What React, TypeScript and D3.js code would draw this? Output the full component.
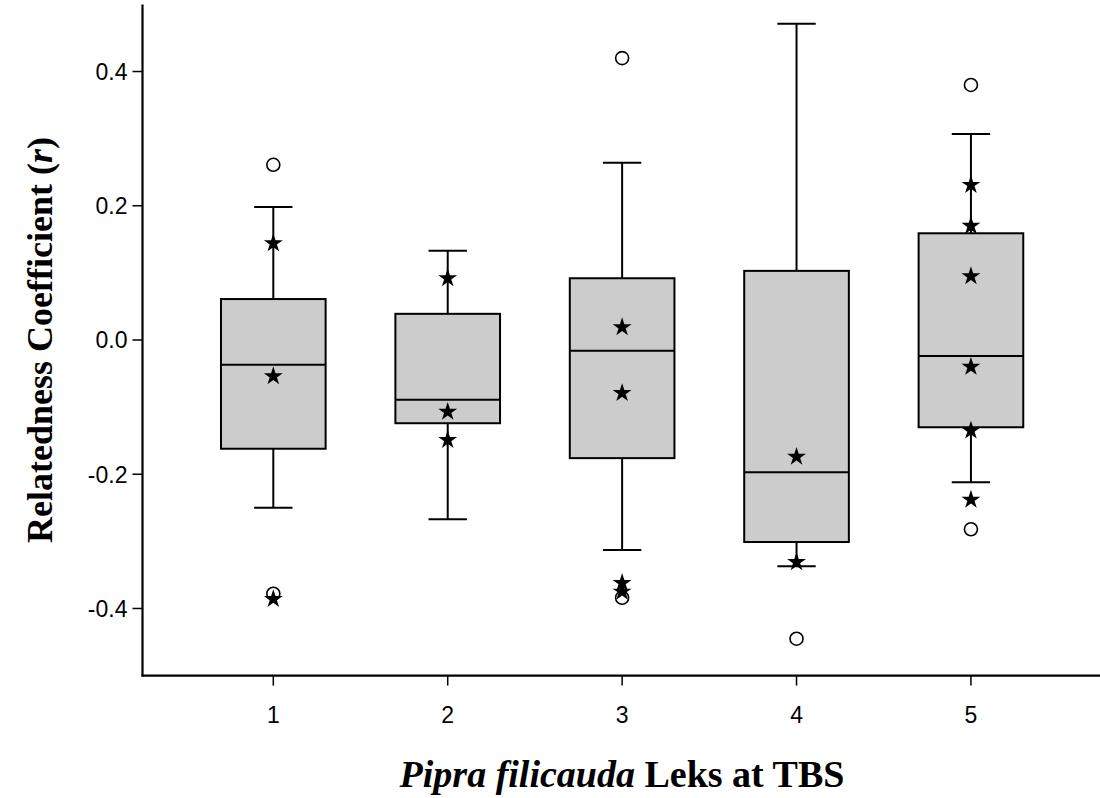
import React from "react";
import * as d3 from "d3";

const categories = [1, 2, 3, 4, 5];
const whiskerLow = [-0.25, -0.267, -0.313, -0.337, -0.212];
const q1 = [-0.162, -0.124, -0.176, -0.301, -0.13];
const median = [-0.037, -0.089, -0.016, -0.197, -0.024];
const q3 = [0.061, 0.039, 0.092, 0.103, 0.159];
const whiskerHigh = [0.198, 0.133, 0.264, 0.471, 0.307];
const outliers = [[0.261, -0.378], [], [0.42, -0.384], [-0.445], [0.38, -0.282]];
const stars = [
  [0.144, -0.054, -0.386],
  [0.092, -0.107, -0.149],
  [0.019, -0.079, -0.362, -0.375],
  [-0.174, -0.331],
  [0.231, 0.17, 0.095, -0.04, -0.135, -0.238],
];
const yTicks = [-0.4, -0.2, 0.0, 0.2, 0.4];
const yTickLabels = ["-0.4", "-0.2", "0.0", "0.2", "0.4"];

const W = 1100;
const H = 798;

export default function App() {
  const x = d3.scaleLinear().domain([0.25, 5.74]).range([142.5, 1100]);
  const y = d3.scaleLinear().domain([-0.5, 0.5]).range([675.6, 4.4]);
  const boxW = x(0.6) - x(0);
  const capW = x(0.22) - x(0);
  const starPath = d3.symbol().type(d3.symbolStar).size(110)() as string;
  const x0 = x.range()[0];
  const yBottom = y(-0.5);

  return (
    <svg width={W} height={H} style={{ position: "absolute", left: 0, top: 0, background: "#fff" }}>
      {categories.map((c, i) => {
        const cx = x(c);
        return (
          <g key={c} stroke="#000" strokeWidth={2}>
            <line x1={cx} x2={cx} y1={y(whiskerHigh[i])} y2={y(q3[i])} />
            <line x1={cx} x2={cx} y1={y(q1[i])} y2={y(whiskerLow[i])} />
            <line x1={cx - capW / 2} x2={cx + capW / 2} y1={y(whiskerHigh[i])} y2={y(whiskerHigh[i])} />
            <line x1={cx - capW / 2} x2={cx + capW / 2} y1={y(whiskerLow[i])} y2={y(whiskerLow[i])} />
            <rect x={cx - boxW / 2} y={y(q3[i])} width={boxW} height={y(q1[i]) - y(q3[i])} fill="#cccccc" />
            <line x1={cx - boxW / 2} x2={cx + boxW / 2} y1={y(median[i])} y2={y(median[i])} />
          </g>
        );
      })}
      {categories.map((c, i) =>
        outliers[i].map((v, j) => (
          <circle key={`o${i}-${j}`} cx={x(c)} cy={y(v)} r={6.5} fill="none" stroke="#000" strokeWidth={1.6} />
        ))
      )}
      {categories.map((c, i) =>
        stars[i].map((v, j) => (
          <path key={`s${i}-${j}`} d={starPath} transform={`translate(${x(c)},${y(v)})`} fill="#000" />
        ))
      )}
      <line x1={x0} x2={x0} y1={y(0.5)} y2={yBottom + 1} stroke="#000" strokeWidth={2.2} />
      <line x1={x0 - 1} x2={W} y1={yBottom} y2={yBottom} stroke="#000" strokeWidth={2.2} />
      {yTicks.map((t, i) => (
        <g key={t}>
          <line x1={x0 - 10} x2={x0} y1={y(t)} y2={y(t)} stroke="#000" strokeWidth={1.5} />
          <text
            x={x0 - 15}
            y={y(t)}
            dy="0.36em"
            textAnchor="end"
            fontFamily="Liberation Sans, Arial, sans-serif"
            fontSize="23px"
            fill="#000"
          >
            {yTickLabels[i]}
          </text>
        </g>
      ))}
      {categories.map((c) => (
        <g key={`xt${c}`}>
          <line x1={x(c)} x2={x(c)} y1={yBottom} y2={yBottom + 10} stroke="#000" strokeWidth={1.5} />
          <text
            x={x(c)}
            y={yBottom + 47}
            textAnchor="middle"
            fontFamily="Liberation Sans, Arial, sans-serif"
            fontSize="23px"
            fill="#000"
          >
            {c}
          </text>
        </g>
      ))}
      <text
        transform={`translate(52,340) rotate(-90)`}
        textAnchor="middle"
        fontFamily="Liberation Serif, Times New Roman, serif"
        fontWeight="bold"
        fontSize="36px"
        fill="#000"
      >
        Relatedness Coefficient (<tspan fontStyle="italic">r</tspan>)
      </text>
      <text
        x={622}
        y={787}
        textAnchor="middle"
        fontFamily="Liberation Serif, Times New Roman, serif"
        fontWeight="bold"
        fontSize="38px"
        fill="#000"
      >
        <tspan fontStyle="italic">Pipra filicauda</tspan> Leks at TBS
      </text>
    </svg>
  );
}
